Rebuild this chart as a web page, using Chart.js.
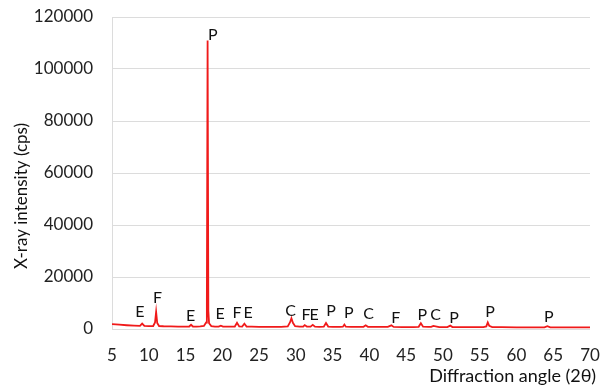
<!DOCTYPE html>
<html>
<head>
<meta charset="utf-8">
<script src="https://cdn.jsdelivr.net/npm/chart.js@4/dist/chart.umd.min.js"></script>
<style>
  html, body { margin: 0; padding: 0; background: #fff; }
  #wrap { width: 610px; height: 388px; }
</style>
</head>
<body>
<div id="wrap"><canvas id="xrd" width="610" height="388"></canvas></div>
<script>
// diffraction pattern
const twoTheta = [5, 6, 7, 8, 8.8, 9.1, 9.4, 10, 10.6, 10.85, 11.0, 11.15, 11.4, 12, 13, 14, 15, 15.5, 15.75, 16.0,
  16.5, 17.0, 17.5, 17.8, 17.9, 18.0, 18.1, 18.2, 18.5, 19.0, 19.5, 19.8, 20.1, 21, 21.7, 22.0, 22.3, 22.7, 23.0, 23.3,
  24, 25, 26, 27, 28, 28.9, 29.2, 29.4, 29.6, 29.9, 30.5, 31.0, 31.2, 31.5, 32.0, 32.3, 32.6, 33.2, 33.8, 34.1,
  34.4, 35, 36, 36.4, 36.6, 36.8, 37.5, 38.5, 39.2, 39.5, 39.8, 41, 42.5, 43.0, 43.3, 44.5, 46, 46.7, 47.0, 47.3,
  48.0, 48.4, 48.7, 49.5, 50.6, 51.0, 51.3, 52.5, 54, 55.5, 55.9, 56.1, 56.3, 56.7, 58, 60, 62, 63.8, 64.2, 64.6,
  66, 68, 70];
const intensity = [1900, 1650, 1450, 1300, 1200, 2100, 1200, 1100, 1150, 2500, 6600, 2300, 1150, 1050, 1000, 950, 950, 950, 1600, 950,
  950, 1000, 1200, 2500, 9000, 111000, 7000, 2200, 1100, 950, 900, 1300, 900, 900, 950, 2400, 1000, 950, 2000, 950,
  900, 850, 850, 850, 850, 1000, 2500, 4100, 2400, 1100, 900, 950, 1500, 950, 900, 1600, 900, 850, 900, 2300,
  950, 850, 850, 900, 1700, 900, 850, 800, 850, 1400, 850, 800, 800, 1400, 800, 750, 750, 850, 2200, 900,
  800, 850, 1200, 750, 750, 1300, 750, 700, 700, 700, 1000, 2500, 1200, 750, 700, 650, 650, 650, 1100, 650,
  600, 600, 600];

// phase labels (letter, position in data units)
const peakNames = ['E', 'F', 'E', 'P', 'E', 'F', 'E', 'C', 'F', 'E', 'P', 'P', 'C', 'F', 'P', 'C', 'P', 'P', 'P'];
const peakX = [8.8, 11.2, 15.7, 18.7, 19.7, 22.0, 23.5, 29.3, 31.4, 32.5, 34.8, 37.2, 39.9, 43.6, 47.2, 49.0, 51.5, 56.4, 64.4];
const peakY = [6600, 11800, 5100, 113300, 5700, 6100, 6100, 7000, 5300, 5300, 7000, 6100, 5700, 4300, 5300, 5300, 4300, 6600, 4700];

const xTitle = 'Diffraction angle (2θ)';
const yTitle = 'X-ray intensity (cps)';

const FONT = 'Lato, "Open Sans", sans-serif';

const labelPlugin = {
  id: 'peakLabels',
  afterDatasetsDraw(chart) {
    const { ctx, scales: { x, y }, chartArea } = chart;
    ctx.save();
    ctx.fillStyle = '#111';
    ctx.font = '16px ' + FONT;
    ctx.textAlign = 'center';
    ctx.textBaseline = 'middle';
    peakNames.forEach((name, i) => {
      ctx.fillText(name, x.getPixelForValue(peakX[i]), y.getPixelForValue(peakY[i]));
    });

    // axis titles (Excel puts them off-centre)
    ctx.font = '18px ' + FONT;
    ctx.textAlign = 'right';
    ctx.fillText(xTitle, chartArea.right + 6, 376);

    ctx.font = '17px ' + FONT;
    ctx.translate(22, chartArea.top + 179);
    ctx.rotate(-Math.PI / 2);
    ctx.textAlign = 'center';
    ctx.fillText(yTitle, 0, 0);
    ctx.restore();
  }
};

new Chart(document.getElementById('xrd'), {
  type: 'line',
  data: {
    datasets: [{
      data: twoTheta.map((t, i) => ({ x: t, y: intensity[i] })),
      borderColor: '#f01a1a',
      borderWidth: 1.8,
      pointRadius: 0,
      tension: 0,
      fill: false
    }]
  },
  options: {
    responsive: false,
    animation: false,
    layout: { padding: { left: 0, right: 20, top: 17, bottom: 0 } },
    plugins: { legend: { display: false }, tooltip: { enabled: false } },
    scales: {
      x: {
        type: 'linear',
        min: 5,
        max: 70,
        afterFit: s => { s.height = 59; s.paddingLeft = 0; s.paddingRight = 0; },
        grid: { display: false, drawTicks: false },
        border: { display: false },
        ticks: { stepSize: 5, padding: 16, color: '#222', font: { family: FONT, size: 17 } }
      },
      y: {
        min: 0,
        max: 120000,
        afterFit: s => { s.width = 112; s.paddingTop = 0; s.paddingBottom = 0; },
        grid: { color: '#dcdcdc', drawTicks: false },
        border: { display: true, color: '#dcdcdc' },
        ticks: { stepSize: 20000, padding: 19, color: '#222', font: { family: FONT, size: 17 }, callback: v => String(v) }
      }
    }
  },
  plugins: [labelPlugin]
});
</script>
</body>
</html>
